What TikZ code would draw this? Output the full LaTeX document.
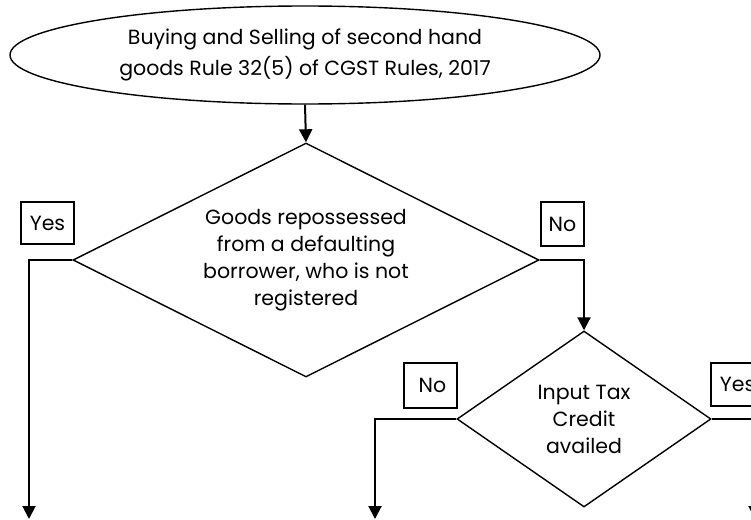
\documentclass[tikz,border=0pt]{standalone}
\usepackage{fontspec}
\setmainfont{Poppins}
\usetikzlibrary{shapes.geometric,arrows.meta}
\begin{document}
\begin{tikzpicture}[x=1pt,y=-1pt,
  shp/.style={draw,line width=1.4pt,inner sep=0pt,align=center},
  txt/.style={font=\fontsize{20.5}{27}\selectfont},
  lbl/.style={draw,line width=1.2pt,inner sep=0pt,font=\fontsize{20.5}{22}\selectfont},
  conn/.style={line width=2pt,-{Triangle[width=13pt,length=13pt]}}]
\useasboundingbox (0,0) rectangle (751,519);
\clip (0,0) rectangle (751,519);
\node[shp,ellipse,minimum width=590pt,minimum height=98pt,font=\fontsize{20.5}{31}\selectfont] (start) at (305,55)
  {Buying and Selling of second hand\\goods Rule 32(5) of CGST Rules, 2017};
\node[shp,diamond,aspect=2,minimum width=466pt,minimum height=234pt,txt] (d1) at (306,260)
  {Goods repossessed\\from a defaulting\\borrower, who is not\\registered};
\node[shp,diamond,aspect=1.44,minimum width=254pt,minimum height=176pt,txt] (d2) at (584,419)
  {Input Tax\\Credit\\availed};
\node[lbl,minimum width=53pt,minimum height=42pt] (yes1) at (47.5,223) {Yes};
\node[lbl,minimum width=43pt,minimum height=44pt] (no1) at (562.5,224) {No};
\node[lbl,minimum width=53pt,minimum height=45pt] (no2) at (430.5,385.5) {\hspace{4pt}No};
\node[lbl,minimum width=53pt,minimum height=43pt] (yes2) at (737.5,384.5) {Yes};
\coordinate (e1) at (29,519);
\coordinate (e2) at (375,519);
\coordinate (e3) at (755,519);
\draw[conn] (start.south) -- (d1.north);
\draw[conn] (d1.west) -| (e1);
\draw[conn] (d1.east) -| (d2.north);
\draw[conn] (d2.west) -| (e2);
\draw[conn] (d2.east) -| (e3);
\end{tikzpicture}
\end{document}
